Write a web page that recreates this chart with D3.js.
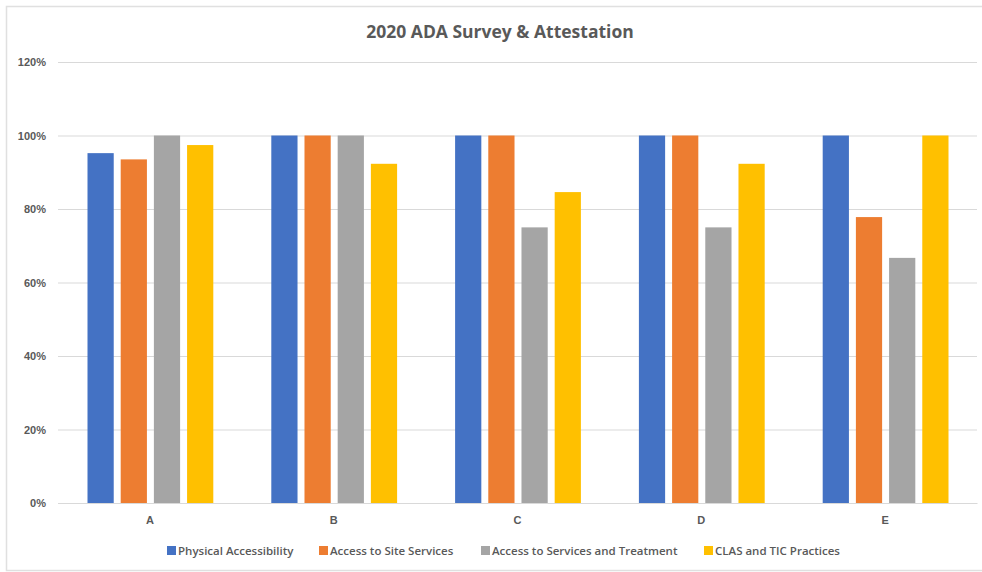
<!DOCTYPE html>
<html>
<head>
<meta charset="utf-8">
<script src="https://cdn.jsdelivr.net/npm/d3@7"></script>
<style>
  html, body { margin: 0; padding: 0; background: #fff; }
  svg { display: block; font-family: "Open Sans", "Noto Sans", sans-serif; }
</style>
</head>
<body>
<svg id="chart" width="982" height="572"></svg>
<script>
// Sites surveyed
const categories = ["A", "B", "C", "D", "E"];
// Survey sections
const seriesNames = [
  "Physical Accessibility",
  "Access to Site Services",
  "Access to Services and Treatment",
  "CLAS and TIC Practices"
];
// Share of items met, per section, in site order
const physicalAccessibility = [0.952, 1.0, 1.0, 1.0, 1.0];
const accessToSiteServices  = [0.935, 1.0, 1.0, 1.0, 0.778];
const accessToServices      = [1.0, 1.0, 0.75, 0.75, 0.667];
const clasAndTic            = [0.974, 0.923, 0.846, 0.923, 1.0];
const yTicks = [0, 0.2, 0.4, 0.6, 0.8, 1.0, 1.2];
const colors = ["#4472C4", "#ED7D31", "#A5A5A5", "#FFC000"];

const seriesValues = [physicalAccessibility, accessToSiteServices, accessToServices, clasAndTic];

const svg = d3.select("#chart");
const W = 982, H = 572;
const plot = { left: 58, right: 977, top: 62, bottom: 503 };

// Outer frame (runs off the right edge)
svg.append("rect")
  .attr("x", 6.5).attr("y", 6.5)
  .attr("width", W + 10).attr("height", H - 8)
  .attr("fill", "#fff").attr("stroke", "#e0e0e0").attr("stroke-width", 1.5);

// Title
svg.append("text")
  .attr("x", 500).attr("y", 38)
  .attr("text-anchor", "middle")
  .attr("font-size", 17.5).attr("font-weight", "bold")
  .attr("fill", "#595959")
  .text("2020 ADA Survey & Attestation");

const y = d3.scaleLinear().domain([0, 1.2]).range([plot.bottom, plot.top]);
const x0 = d3.scaleBand().domain(categories).range([plot.left, plot.right]).padding(0);
const groupPad = 29.5;
const x1 = d3.scaleBand().domain(seriesNames)
  .range([groupPad, x0.bandwidth() - groupPad + 1])
  .paddingInner(0.21).paddingOuter(0);

// Gridlines
const yAxis = d3.axisLeft(y).tickValues(yTicks).tickFormat(d3.format(".0%"))
  .tickSize(-(plot.right - plot.left)).tickPadding(12);
const gy = svg.append("g").attr("transform", `translate(${plot.left},0)`).call(yAxis);
gy.select(".domain").remove();
gy.selectAll(".tick line").attr("stroke", "#d9d9d9").attr("stroke-width", 1);
gy.selectAll(".tick text").attr("fill", "#595959").attr("font-size", 11).attr("font-weight", 600);

// Bars
const groups = svg.append("g").selectAll("g")
  .data(categories)
  .join("g")
  .attr("transform", d => `translate(${x0(d)},0)`);

groups.selectAll("rect")
  .data((c, ci) => seriesNames.map((s, si) => ({ s, si, v: seriesValues[si][ci] })))
  .join("rect")
  .attr("x", d => x1(d.s))
  .attr("width", x1.bandwidth())
  .attr("y", d => y(d.v))
  .attr("height", d => y(0) - y(d.v))
  .attr("fill", d => colors[d.si]);

// Category axis
const xAxis = d3.axisBottom(x0).tickSize(0).tickPadding(13);
const gx = svg.append("g").attr("transform", `translate(0,${plot.bottom})`).call(xAxis);
gx.select(".domain").attr("stroke", "#d9d9d9");
gx.selectAll(".tick text").attr("fill", "#595959").attr("font-size", 11).attr("font-weight", "bold");

// Legend
const legendX = [167, 319, 481, 704];
const legend = svg.append("g").selectAll("g")
  .data(seriesNames)
  .join("g")
  .attr("transform", (d, i) => `translate(${legendX[i]},546)`);
legend.append("rect").attr("width", 9).attr("height", 9).attr("fill", (d, i) => colors[i]);
legend.append("text")
  .attr("x", 11).attr("y", 9)
  .attr("font-size", 11.5).attr("font-weight", 600).attr("fill", "#595959")
  .text(d => d);
</script>
</body>
</html>
